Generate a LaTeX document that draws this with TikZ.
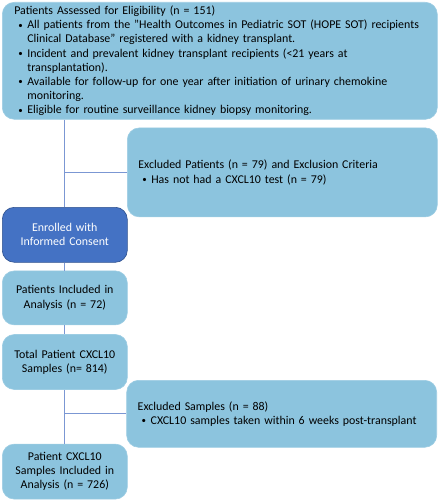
\documentclass[tikz,border=0pt]{standalone}
\usepackage{fontspec}
\setmainfont{Carlito}
\usetikzlibrary{positioning}

\definecolor{boxblue}{HTML}{8CC4DE}
\definecolor{enrollblue}{HTML}{4472C4}
\definecolor{enrollborder}{HTML}{2F528F}
\definecolor{linkblue}{HTML}{7B97D3}

% bullet line and wrapped line
\newcommand{\bul}{\hspace*{4pt}\makebox[9pt][l]{\raisebox{0.6pt}{\scalebox{0.75}{\textbullet}}}}
\newcommand{\cont}{\hspace*{13pt}}

\tikzset{
  lightbox/.style={rectangle, rounded corners=12pt, fill=boxblue, draw=boxblue!85!white,
    line width=0.6pt, text=black, font=\fontsize{11.9}{14.2}\selectfont},
  critbox/.style={lightbox, align=left, inner xsep=11pt},
  stepbox/.style={lightbox, align=center, minimum width=125pt, minimum height=55pt,
    text width=117pt, inner xsep=4pt},
  flowline/.style={draw=linkblue, line width=1pt}
}

\begin{document}
\begin{tikzpicture}[x=1pt,y=1pt]

\useasboundingbox (0,0) rectangle (440,-500);

% Eligibility
\node[critbox,
	anchor=north west,
	minimum width=435pt,
	minimum height=117pt,
	text width=411pt,
	inner xsep=12pt] (eligible) at (2,-2) {Patients Assessed for Eligibility (n = 151)\\
\bul All patients from the "Health Outcomes in Pediatric SOT (HOPE SOT) recipients\\
\cont Clinical Database" registered with a kidney transplant.\\
\bul Incident and prevalent kidney transplant recipients (<21 years at\\
\cont transplantation).\\
\bul Available for follow-up for one year after initiation of urinary chemokine\\
\cont monitoring.\\
\bul Eligible for routine surveillance kidney biopsy monitoring.};

\node[critbox,
	below=8pt of eligible.south east,
	anchor=north east,
	minimum width=310pt,
	minimum height=89pt,
	text width=288pt] (excl_patients) {Excluded Patients (n = 79) and Exclusion Criteria\\
\bul Has not had a CXCL10 test (n = 79)};

%%%%%%%%%%%%%%%%%%%
% Enrolment

\node[stepbox,
	fill=enrollblue,
	draw=enrollborder,
	text=white,
	anchor=north west] (enrolled) at (2,-207) {Enrolled with\\Informed Consent};

\node[stepbox,
	below=8pt of enrolled,
	minimum height=54pt] (included) {Patients Included in\\Analysis (n = 72)};

\node[stepbox,
	below=9pt of included] (samples) {Total Patient CXCL10\\Samples (n= 814)};

%%%%%%%%%%%%%%%%%%%
% Sample exclusion

\node[critbox,
	anchor=north east,
	minimum width=310pt,
	minimum height=67pt,
	text width=288pt] (excl_samples) at (437,-380) {Excluded Samples (n = 88)\\
\bul CXCL10 samples taken within 6 weeks post-transplant};

\node[stepbox,
	below=54pt of samples] (final) {Patient CXCL10\\Samples Included in\\Analysis (n = 726)};

% connectors
\coordinate (split_patients) at (enrolled.north |- excl_patients.west);
\coordinate (split_samples) at (samples.south |- excl_samples.west);

\draw[flowline]
    (enrolled.north |- eligible.south) -- (enrolled.north)
    (split_patients) -- (excl_patients.west)
    (enrolled) -- (included)
    (included) -- (samples)
    (samples) -- (final)
    (split_samples) -- (excl_samples.west);

\end{tikzpicture}
\end{document}
